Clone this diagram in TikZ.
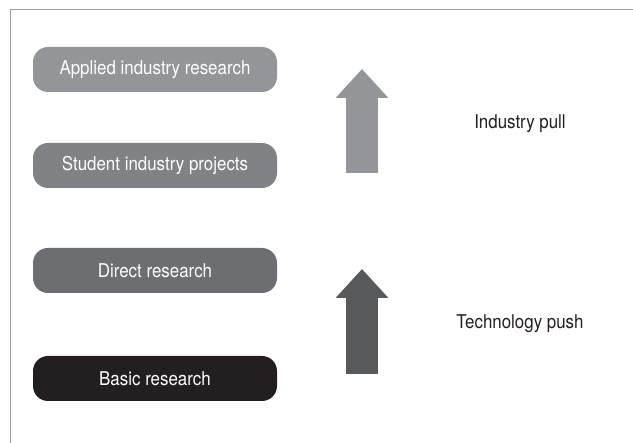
\documentclass[tikz,border=0pt]{standalone}
\usepackage{fontspec}
\setmainfont{TeX Gyre Heros}[FakeStretch=0.89]
\usetikzlibrary{arrows.meta}
\definecolor{gA}{HTML}{939598}
\definecolor{gB}{HTML}{808285}
\definecolor{gC}{HTML}{6D6E71}
\definecolor{gD}{HTML}{231F20}
\definecolor{gE}{HTML}{58595B}
\definecolor{frm}{HTML}{A0A0A0}
\begin{document}
\begin{tikzpicture} [x = 1pt, y = -1pt, font = \fontsize{19}{22}\selectfont,
  level/.style = {rounded corners = 15pt, minimum width = 244pt, minimum height = 45pt, text = white, inner sep = 0pt},
  bigarrow/.style = {line width = 32pt, -{Triangle[length = 29pt, width = 51pt]}},
  side/.style = {text = gD}]
\useasboundingbox (0,0) rectangle (633,443);
\draw [frm, line width = 1pt] (633,10) -- (10,10) -- (10,443);
% research levels
\node[level, fill = gA] (applied) at (155,69.5) {Applied industry research};
\node[level, fill = gB] (student) at (155,165.5) {Student industry projects};
\node[level, fill = gC] (direct) at (155,270.5) {Direct research};
\node[level, fill = gD] (basic) at (155,378.5) {Basic research};
% arrows
\coordinate (pullb) at (362,173);
\coordinate (pullt) at (362,69);
\coordinate (pushb) at (362,374);
\coordinate (pusht) at (362,269);
\draw [bigarrow, gA] (pullb) -- (pullt);
\draw [bigarrow, gE] (pushb) -- (pusht);
\node[side] (pull) at (520,124) {Industry pull};
\node[side] (push) at (520,324) {Technology push};
\end{tikzpicture}
\end{document}
